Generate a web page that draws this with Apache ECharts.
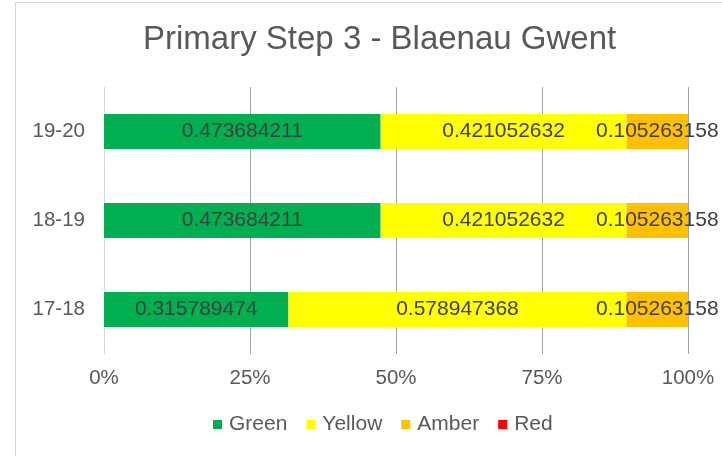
<!DOCTYPE html>
<html>
<head>
<meta charset="utf-8">
<script src="https://cdn.jsdelivr.net/npm/echarts@6/dist/echarts.min.js"></script>
<style>
html,body{margin:0;padding:0;background:#fff;}
#chart{width:722px;height:456px;}
</style>
</head>
<body>
<div id="chart"></div>
<script>
const categories = ['17-18', '18-19', '19-20'];
const green = [0.315789474, 0.473684211, 0.473684211];
const yellow = [0.578947368, 0.421052632, 0.421052632];
const amber = [0.105263158, 0.105263158, 0.105263158];
const red = [0, 0, 0];
const xTicks = ['0%', '25%', '50%', '75%', '100%'];

const FONT = '"Liberation Sans", Arial, sans-serif';
const chart = echarts.init(document.getElementById('chart'));

function mk(name, data, color) {
  return {
    name: name,
    type: 'bar',
    stack: 'total',
    data: data,
    barWidth: 35,
    itemStyle: { color: color },
    label: {
      show: true,
      position: 'inside',
      color: '#404040',
      fontFamily: FONT,
      fontSize: 21,
      formatter: function (p) { return p.value ? String(p.value) : ''; }
    },
    emphasis: { disabled: true }
  };
}

chart.setOption({
  animation: false,
  backgroundColor: '#fff',
  title: {
    text: 'Primary Step 3 - Blaenau Gwent',
    left: 143,
    top: 23,
    padding: 0,
    textStyle: { fontFamily: FONT, fontSize: 33, fontWeight: 'normal', color: '#595959' }
  },
  legend: {
    data: ['Green', 'Yellow', 'Amber', 'Red'],
    left: 213,
    top: 414,
    padding: 0,
    icon: 'rect',
    itemWidth: 9,
    itemHeight: 9,
    itemGap: 19,
    textStyle: { fontFamily: FONT, fontSize: 21, color: '#595959', padding: [0, 0, 0, 2] }
  },
  grid: { left: 104, right: 34, top: 87, bottom: 102, containLabel: false },
  xAxis: {
    type: 'value',
    min: 0,
    max: 1,
    interval: 0.25,
    axisLine: { show: false },
    axisTick: { show: false },
    splitLine: { show: true, lineStyle: { color: '#a6a6a6', width: 1 } },
    axisLabel: {
      margin: 14,
      fontFamily: FONT,
      fontSize: 20.5,
      color: '#595959',
      formatter: function (v) { return xTicks[Math.round(v / 0.25)]; }
    }
  },
  yAxis: {
    type: 'category',
    data: categories,
    axisLine: { show: true, lineStyle: { color: '#d9d9d9', width: 1 } },
    axisTick: { show: false },
    axisLabel: { margin: 19, fontFamily: FONT, fontSize: 20.5, color: '#595959' }
  },
  graphic: [
    { type: 'line', shape: { x1: 15.5, y1: 2.5, x2: 15.5, y2: 456 }, style: { stroke: '#d9d9d9', lineWidth: 1 }, silent: true },
    { type: 'line', shape: { x1: 15.5, y1: 2.5, x2: 722, y2: 2.5 }, style: { stroke: '#d9d9d9', lineWidth: 1 }, silent: true }
  ],
  series: [
    mk('Green', green, '#00b050'),
    mk('Yellow', yellow, '#ffff00'),
    mk('Amber', amber, '#ffc000'),
    mk('Red', red, '#ff0000')
  ]
});
</script>
</body>
</html>
